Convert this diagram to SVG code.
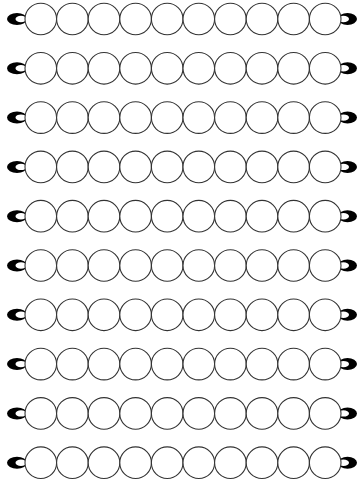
<svg xmlns="http://www.w3.org/2000/svg" xmlns:xlink="http://www.w3.org/1999/xlink" width="359" height="481" viewBox="0 0 359 481">
<style>
.b{fill:#fff;stroke:#333;stroke-width:1.1}
.l{fill:#000;fill-rule:evenodd}
</style>
<defs>
<g id="row">
<path class="l" d="M7,0 a10,6 0 1,0 20,0 a10,6 0 1,0 -20,0 Z M15.5,0 a5.5,3.2 0 1,0 11,0 a5.5,3.2 0 1,0 -11,0 Z"/>
<path class="l" d="M338,0 a9.5,6 0 1,0 19,0 a9.5,6 0 1,0 -19,0 Z M338,0 a5.5,3.2 0 1,0 11,0 a5.5,3.2 0 1,0 -11,0 Z"/>
<circle class="b" cx="40.8" cy="0" r="15.8"/>
<circle class="b" cx="72.4" cy="0" r="15.8"/>
<circle class="b" cx="104" cy="0" r="15.8"/>
<circle class="b" cx="135.6" cy="0" r="15.8"/>
<circle class="b" cx="167.2" cy="0" r="15.8"/>
<circle class="b" cx="198.8" cy="0" r="15.8"/>
<circle class="b" cx="230.4" cy="0" r="15.8"/>
<circle class="b" cx="262" cy="0" r="15.8"/>
<circle class="b" cx="293.6" cy="0" r="15.8"/>
<circle class="b" cx="325.2" cy="0" r="15.8"/>
</g>
</defs>
<g id="row1"><use xlink:href="#row" y="19"/></g>
<g id="row2"><use xlink:href="#row" y="68.3"/></g>
<g id="row3"><use xlink:href="#row" y="117.6"/></g>
<g id="row4"><use xlink:href="#row" y="166.9"/></g>
<g id="row5"><use xlink:href="#row" y="216.2"/></g>
<g id="row6"><use xlink:href="#row" y="265.5"/></g>
<g id="row7"><use xlink:href="#row" y="314.8"/></g>
<g id="row8"><use xlink:href="#row" y="364.1"/></g>
<g id="row9"><use xlink:href="#row" y="413.4"/></g>
<g id="row10"><use xlink:href="#row" y="462.7"/></g>
</svg>
